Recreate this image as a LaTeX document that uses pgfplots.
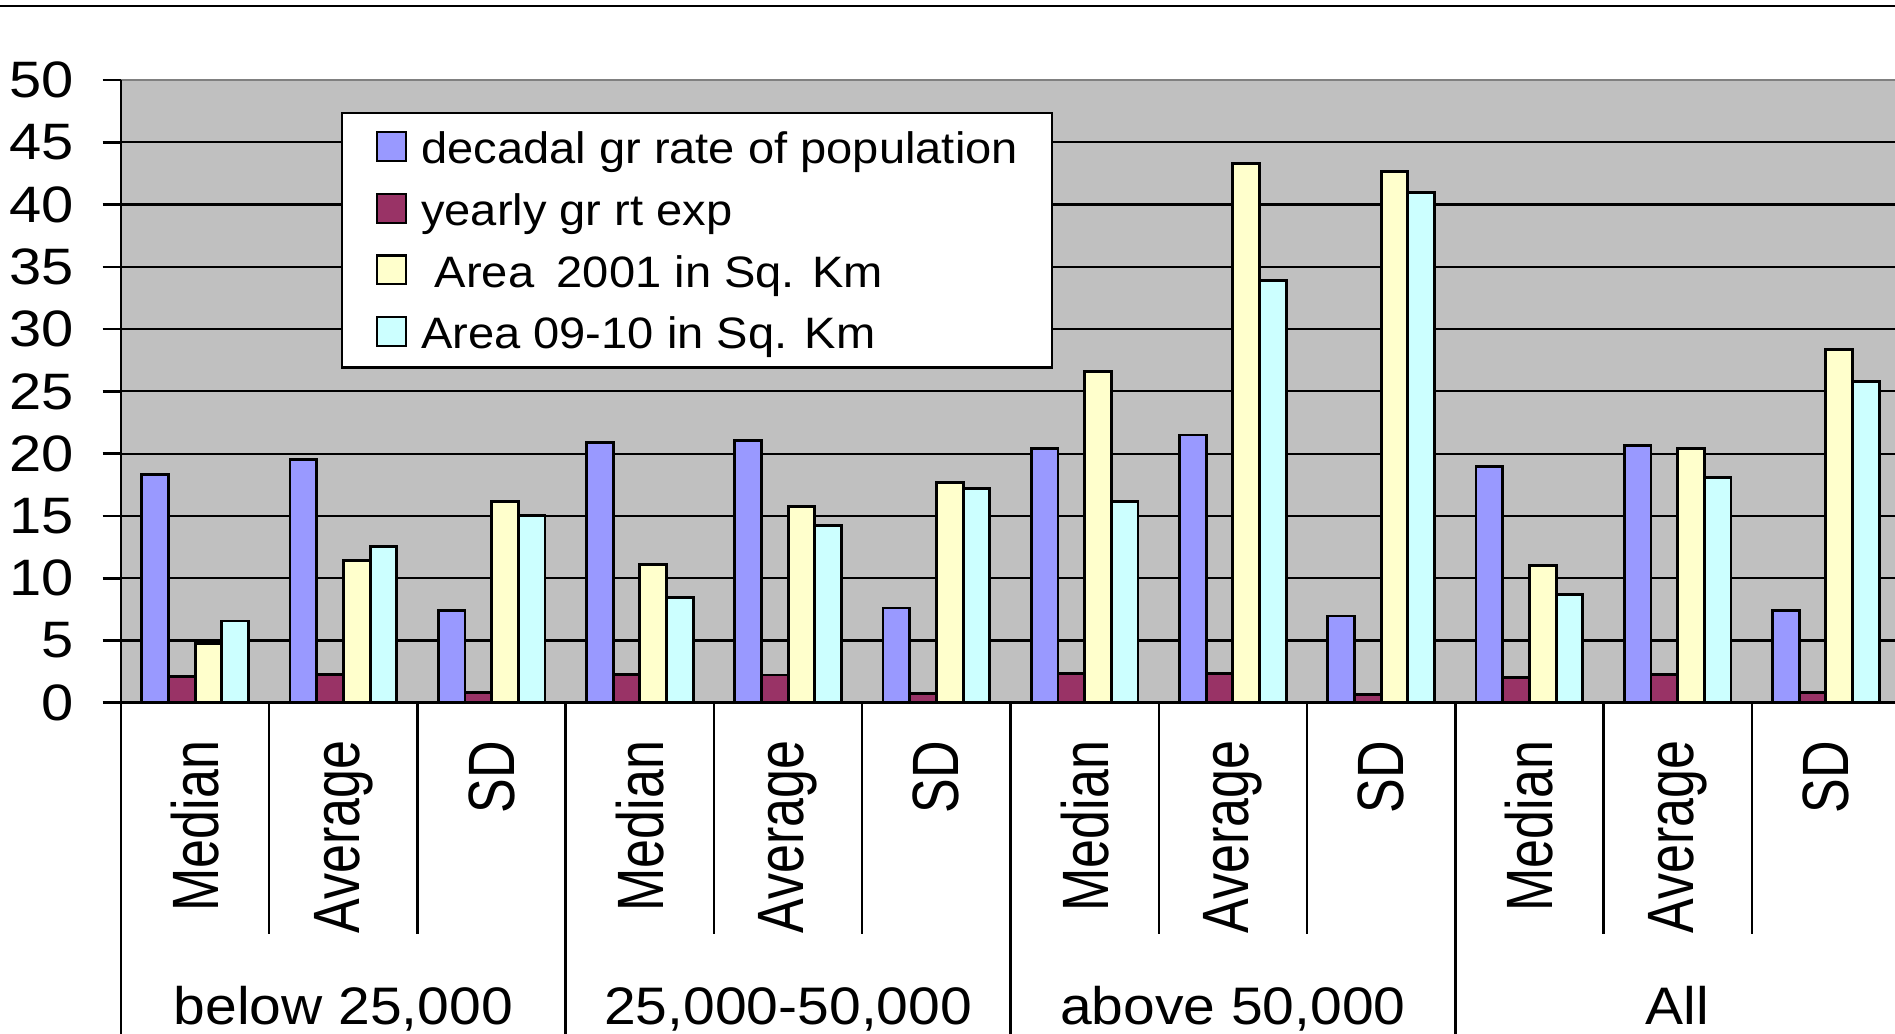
\documentclass[border=0pt]{standalone}
\usepackage{pgfplots}
\usepackage{pgfplotstable}
\pgfplotsset{compat=1.18}
\usepackage{fontspec}
\setmainfont{Liberation Sans}
\definecolor{cBlue}{HTML}{9999FF}
\definecolor{cMaroon}{HTML}{993366}
\definecolor{cYellow}{HTML}{FFFFCC}
\definecolor{cCyan}{HTML}{CCFFFF}
\definecolor{cBack}{HTML}{C0C0C0}
\definecolor{cTop}{HTML}{808080}
\pgfplotstableread{
x dec yr a01 a09
0 18.30 2.09 4.77 6.57
1 19.56 2.28 11.44 12.54
2 7.43 0.80 16.19 15.06
3 20.88 2.28 11.07 8.47
4 21.06 2.23 15.76 14.23
5 7.61 0.75 17.66 17.23
6 20.44 2.32 26.63 16.17
7 21.50 2.32 43.27 33.89
8 6.97 0.63 42.63 40.97
9 18.95 2.04 11.04 8.68
10 20.66 2.28 20.42 18.06
11 7.40 0.80 28.33 25.78
}\datatab
\newcommand{\rotlab}[1]{\fontsize{13}{15}\selectfont\scalebox{1}[1.26]{#1}}
\newcommand{\grplab}[1]{\fontsize{13.2}{15}\selectfont\scalebox{1.08}[1]{#1}}
\newcommand{\legtxt}[1]{\scalebox{1.07}[1]{#1}}
\begin{document}
\begin{tikzpicture}
\path[use as bounding box] (0,0) rectangle (473.75pt,258.5pt);
\draw[line width=0.6pt] (0,257pt) -- (473.75pt,257pt);
\begin{axis}[
  at={(30.25pt,82.8pt)}, anchor=south west,
  scale only axis, width=444.75pt, height=155.7pt,
  xmin=-0.5, xmax=11.5, ymin=0, ymax=50,
  ybar=0pt, bar width=0.18,
  axis x line*=bottom, axis y line*=left,
  axis line style={line width=0.7pt, black},
  axis background/.style={fill=cBack},
  xtick=\empty,
  ytick={0,5,...,50},
  ymajorgrids, grid style={line width=0.55pt, black},
  tick align=outside, major tick length=4.6pt,
  ytick style={line width=0.65pt, black},
  yticklabel style={anchor=east, inner sep=0pt, xshift=-7pt, font=\fontsize{12.8}{14}\selectfont},
  yticklabel={\scalebox{1.13}[1]{\pgfmathprintnumber[assume math mode=true]{\tick}}},
  clip=false,
  legend cell align=left,
  legend style={at={(0.1237,0.9486)}, anchor=north west, draw=black, line width=0.55pt,
    fill=white, inner xsep=8.5pt, inner ysep=1pt, row sep=0pt, column sep=3.5pt,
    font=\fontsize{11}{13}\selectfont,
    nodes={inner sep=0pt, text height=11.7pt, text depth=3.7pt}},
  legend image code/.code={\draw[#1,line width=0.55pt] (0pt,-3.3pt) rectangle (7.2pt,3.9pt);},
]
\addplot[fill=cBlue, draw=black, line width=0.72pt] table[x=x,y=dec]{\datatab};
\addlegendentry{\legtxt{decadal gr rate of population}}
\addplot[fill=cMaroon, draw=black, line width=0.72pt] table[x=x,y=yr]{\datatab};
\addlegendentry{\legtxt{yearly gr rt exp}}
\addplot[fill=cYellow, draw=black, line width=0.72pt] table[x=x,y=a01]{\datatab};
\addlegendentry{\legtxt{\hspace{3.2pt}Area\hspace{0.2em} 2001 in Sq. Km}}
\addplot[fill=cCyan, draw=black, line width=0.72pt] table[x=x,y=a09]{\datatab};
\addlegendentry{\legtxt{Area 09-10 in Sq. Km}}
\draw[cTop, line width=0.6pt] (rel axis cs:0,1) -- (rel axis cs:1,1);
\draw[black, line width=0.7pt] (rel axis cs:0,0) -- (rel axis cs:0,1);
\pgfplotsinvokeforeach{0.5,1.5,3.5,4.5,6.5,7.5,9.5,10.5}{
  \draw[black, line width=0.6pt] (axis cs:#1,0) -- ++(0pt,-57.7pt);
}
\pgfplotsinvokeforeach{-0.5,2.5,5.5,8.5}{
  \draw[black, line width=0.7pt] (axis cs:#1,0) -- ++(0pt,-120pt);
}
\pgfplotsinvokeforeach{0,3,6,9}{
  \node[rotate=90, anchor=east, inner sep=0pt] at ([yshift=-9.3pt]axis cs:#1,0) {\rotlab{Median}};
  \node[rotate=90, anchor=east, inner sep=0pt] at ([yshift=-9.3pt]axis cs:#1+1,0) {\rotlab{Average}};
  \node[rotate=90, anchor=east, inner sep=0pt] at ([yshift=-9.3pt]axis cs:#1+2,0) {\rotlab{SD}};
}
\node[anchor=base, inner sep=0pt] at ([yshift=-80.55pt]axis cs:1,0) {\grplab{below 25,000}};
\node[anchor=base, inner sep=0pt] at ([yshift=-80.55pt]axis cs:4,0) {\grplab{25,000-50,000}};
\node[anchor=base, inner sep=0pt] at ([yshift=-80.55pt]axis cs:7,0) {\grplab{above 50,000}};
\node[anchor=base, inner sep=0pt] at ([yshift=-80.55pt]axis cs:10,0) {\grplab{All}};
\end{axis}
\end{tikzpicture}
\end{document}
